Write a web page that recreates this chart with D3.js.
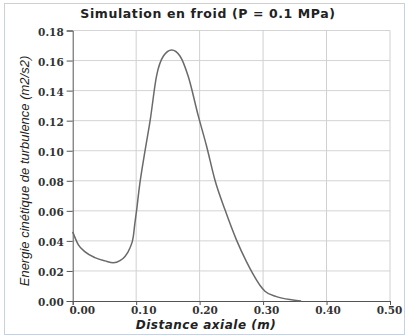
<!DOCTYPE html>
<html>
<head>
<meta charset="utf-8">
<script src="https://cdn.jsdelivr.net/npm/d3@7"></script>
<style>
  html, body { margin: 0; padding: 0; background: #fff; }
  svg { display: block; }
</style>
</head>
<body>
<script>
const titleText = "Simulation en froid (P = 0.1 MPa)";
const xLabel = "Distance axiale (m)";
const yLabel = "Energie cinétique de turbulence (m2/s2)";
const xTicks = [0, 0.1, 0.2, 0.3, 0.4, 0.5];
const yTicks = [0, 0.02, 0.04, 0.06, 0.08, 0.10, 0.12, 0.14, 0.16, 0.18];
const distance = [0.000, 0.009, 0.019, 0.035, 0.051, 0.064, 0.0745, 0.082, 0.090, 0.0955, 0.098, 0.1008, 0.1045, 0.114, 0.122, 0.132, 0.143, 0.156, 0.169, 0.182, 0.198, 0.211, 0.224, 0.240, 0.258, 0.274, 0.284, 0.295, 0.303, 0.321, 0.347, 0.360];
const energy   = [0.046, 0.0373, 0.0329, 0.0289, 0.0267, 0.0255, 0.0269, 0.0295, 0.0351, 0.0429, 0.0518, 0.0607, 0.074, 0.100, 0.120, 0.1495, 0.163, 0.167, 0.163, 0.1495, 0.123, 0.103, 0.0807, 0.0607, 0.0407, 0.026, 0.018, 0.0105, 0.0065, 0.0029, 0.0007, 0.0];

const W = 405, H = 336;
const m = {left: 72.7, right: 405 - 390, top: 30.5, bottom: 336 - 301};
const svg = d3.select("body").append("svg").attr("width", W).attr("height", H);

// outer frame
svg.append("rect").attr("x", 4.5).attr("y", 3.5).attr("width", W - 5).attr("height", H - 5)
  .attr("fill", "#fff").attr("stroke", "#c9d1dd").attr("stroke-width", 1);

const x = d3.scaleLinear().domain([0, 0.5]).range([m.left, W - m.right]);
const y = d3.scaleLinear().domain([0, 0.18]).range([H - m.bottom, m.top]);
// tick labels in the reference are spread slightly differently from the gridlines
const xLab = d3.scaleLinear().domain([0, 0.5]).range([x(0) + 9, x(0.5) - 1]);

// grid
svg.append("g").selectAll("line").data(yTicks.slice(1)).join("line")
  .attr("x1", x(0)).attr("x2", x(0.5)).attr("y1", d => y(d)).attr("y2", d => y(d))
  .attr("stroke", "#d4d4d4").attr("stroke-width", 1);
svg.append("g").selectAll("line").data(xTicks.slice(1)).join("line")
  .attr("y1", y(0)).attr("y2", y(0.18)).attr("x1", d => x(d)).attr("x2", d => x(d))
  .attr("stroke", "#d0d0d0").attr("stroke-width", 1);

const tickFamily = "'DejaVu Serif', serif";

// y axis
const yAxis = svg.append("g").attr("transform", `translate(${x(0)},0)`)
  .call(d3.axisLeft(y).tickValues(yTicks).tickFormat(d3.format(".2f")).tickSize(6).tickPadding(3));
yAxis.attr("font-family", tickFamily);
yAxis.select(".domain").attr("stroke", "#555");
yAxis.selectAll(".tick line").attr("stroke", "#555");
yAxis.selectAll("text").attr("font-family", tickFamily).attr("font-weight", "bold")
  .attr("font-size", 10.5).attr("fill", "#333").attr("dy", "0.45em");

// x axis
const xAxis = svg.append("g").attr("transform", `translate(0,${y(0)})`)
  .call(d3.axisBottom(x).tickValues(xTicks).tickFormat(d3.format(".2f")).tickSize(4).tickPadding(2));
xAxis.attr("font-family", tickFamily);
xAxis.select(".domain").attr("stroke", "#555");
xAxis.selectAll(".tick line").attr("stroke", "#555");
xAxis.selectAll(".tick text").attr("font-family", tickFamily).attr("font-weight", "bold")
  .attr("font-size", 10.5).attr("fill", "#333")
  .attr("x", d => xLab(d) - x(d));

// curve
svg.append("path").datum(distance.map((d, i) => [d, energy[i]]))
  .attr("d", d3.line().x(d => x(d[0])).y(d => y(d[1])).curve(d3.curveMonotoneX))
  .attr("fill", "none").attr("stroke", "#6a6a6a").attr("stroke-width", 1.5);

// title
svg.append("text").attr("x", 208).attr("y", 18).attr("text-anchor", "middle")
  .attr("font-family", "'DejaVu Sans', sans-serif").attr("font-weight", "bold").attr("font-size", 12.5)
  .attr("letter-spacing", 0.6)
  .attr("fill", "#222").text(titleText);

// x label
svg.append("text").attr("x", 206).attr("y", 329).attr("text-anchor", "middle")
  .attr("font-family", "'DejaVu Sans', sans-serif").attr("font-weight", "bold").attr("font-style", "italic")
  .attr("font-size", 12).attr("letter-spacing", 0.5).attr("fill", "#222").text(xLabel);

// y label
svg.append("text").attr("transform", "translate(29,171) rotate(-90)").attr("text-anchor", "middle")
  .attr("font-family", "'Liberation Sans', Arial, sans-serif").attr("font-style", "italic")
  .attr("font-size", 13).attr("fill", "#222").text(yLabel);
</script>
</body>
</html>
